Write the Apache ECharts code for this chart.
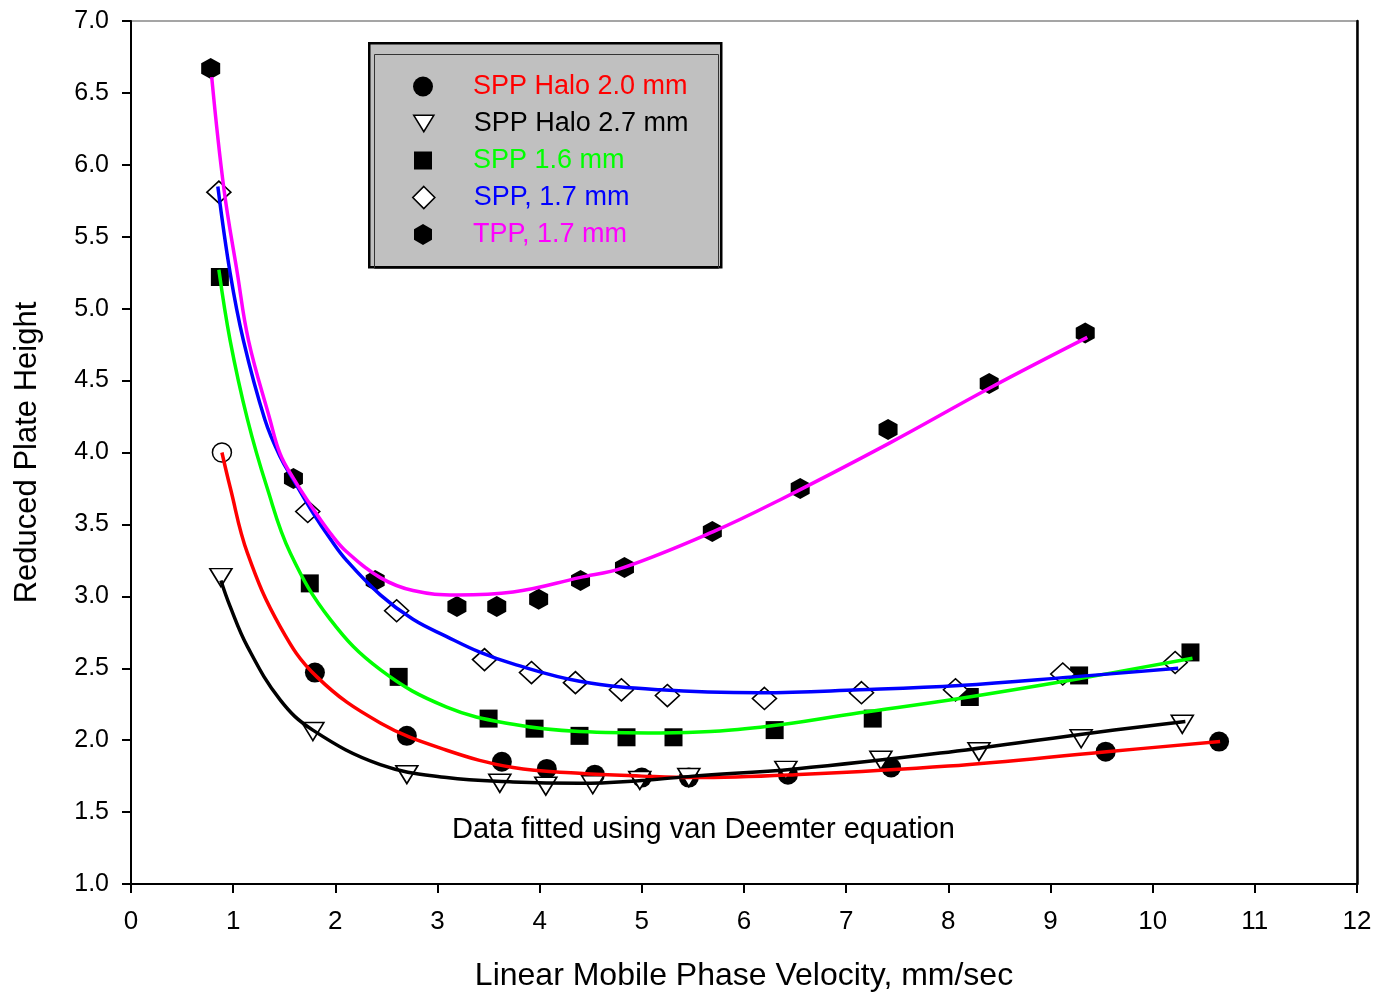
<!DOCTYPE html>
<html>
<head>
<meta charset="utf-8">
<script src="https://cdn.jsdelivr.net/npm/echarts@6/dist/echarts.min.js"></script>
<style>html,body{margin:0;padding:0;background:#fff;overflow:hidden}#c{width:1376px;height:992px}</style>
</head>
<body>
<div id="c"></div>
<script>
// ---- measured data points ----
const halo20X = [0.89, 1.80, 2.70, 3.63, 4.07, 4.54, 5.00, 5.46, 6.43, 7.44, 9.54, 10.65];
const halo20Y = [4.00, 2.47, 2.03, 1.85, 1.80, 1.76, 1.74, 1.74, 1.76, 1.81, 1.92, 1.99];

const halo27X = [0.88, 1.78, 2.70, 3.61, 4.06, 4.52, 4.98, 5.46, 6.41, 7.34, 8.30, 9.30, 10.29];
const halo27Y = [3.13, 2.06, 1.76, 1.70, 1.68, 1.69, 1.72, 1.74, 1.79, 1.86, 1.92, 2.01, 2.11];

const spp16X = [0.87, 1.75, 2.62, 3.50, 3.95, 4.39, 4.85, 5.31, 6.30, 7.26, 8.21, 9.28, 10.37];
const spp16Y = [5.22, 3.09, 2.44, 2.15, 2.08, 2.03, 2.02, 2.02, 2.07, 2.15, 2.30, 2.45, 2.61];

const spp17X = [0.86, 1.73, 2.60, 3.46, 3.92, 4.35, 4.80, 5.25, 6.20, 7.15, 8.07, 9.12, 10.22];
const spp17Y = [5.81, 3.59, 2.90, 2.56, 2.47, 2.40, 2.35, 2.31, 2.29, 2.33, 2.35, 2.46, 2.54];

const tppX = [0.78, 1.59, 2.39, 3.19, 3.58, 3.99, 4.40, 4.83, 5.69, 6.55, 7.41, 8.40, 9.34];
const tppY = [6.67, 3.82, 3.11, 2.93, 2.93, 2.98, 3.11, 3.20, 3.45, 3.75, 4.16, 4.48, 4.83];

// ---- fitted curves ----
const fit20X = [0.89, 0.97, 1.14, 1.46, 1.82, 2.44, 3.09, 3.74, 4.39, 5.00, 5.50, 6.50, 8.00, 9.55, 10.66];
const fit20Y = [4.00, 3.76, 3.30, 2.79, 2.44, 2.12, 1.93, 1.81, 1.77, 1.75, 1.74, 1.76, 1.82, 1.92, 1.99];

const fit27X = [0.88, 0.97, 1.14, 1.46, 1.78, 2.44, 3.09, 3.74, 4.39, 5.00, 5.50, 6.50, 7.92, 9.29, 10.32];
const fit27Y = [3.11, 2.93, 2.65, 2.28, 2.07, 1.83, 1.74, 1.71, 1.70, 1.72, 1.75, 1.80, 1.91, 2.04, 2.13];

const fit16X = [0.86, 0.97, 1.14, 1.33, 1.56, 1.95, 2.44, 3.09, 3.74, 4.39, 5.18, 6.16, 7.13, 8.11, 9.22, 10.39];
const fit16Y = [5.27, 4.78, 4.23, 3.76, 3.30, 2.84, 2.49, 2.23, 2.11, 2.06, 2.05, 2.09, 2.19, 2.29, 2.42, 2.57];

const fit17X = [0.85, 0.97, 1.10, 1.31, 1.46, 1.59, 1.79, 1.95, 2.11, 2.44, 2.76, 3.09, 3.42, 3.74, 4.39, 5.18, 6.16, 7.13, 8.11, 9.22, 10.25];
const fit17Y = [5.85, 5.25, 4.78, 4.23, 3.97, 3.81, 3.57, 3.40, 3.25, 3.01, 2.84, 2.72, 2.61, 2.53, 2.41, 2.35, 2.33, 2.35, 2.38, 2.44, 2.50];

const fitTX = [0.79, 0.91, 1.04, 1.15, 1.36, 1.46, 1.59, 1.79, 1.95, 2.11, 2.44, 2.76, 3.19, 3.74, 4.39, 4.82, 5.70, 6.35, 7.41, 8.41, 9.36];
const fitTY = [6.61, 5.83, 5.25, 4.78, 4.23, 3.99, 3.82, 3.60, 3.44, 3.31, 3.13, 3.04, 3.01, 3.03, 3.13, 3.20, 3.45, 3.67, 4.06, 4.45, 4.80];

const xTicks = [0, 1, 2, 3, 4, 5, 6, 7, 8, 9, 10, 11, 12];
const yTicks = [1.0, 1.5, 2.0, 2.5, 3.0, 3.5, 4.0, 4.5, 5.0, 5.5, 6.0, 6.5, 7.0];

const names = ['SPP Halo 2.0 mm', 'SPP Halo 2.7 mm', 'SPP 1.6 mm', 'SPP, 1.7 mm', 'TPP, 1.7 mm'];
const lineColors = ['#ff0000', '#000000', '#00ff00', '#0000ff', '#ff00ff'];

const FONT = '"Liberation Sans", Arial, sans-serif';
const zip = (xs, ys) => xs.map((x, i) => [x, ys[i]]);
const hexPath = 'path://M0,-1 L0.866,-0.5 L0.866,0.5 L0,1 L-0.866,0.5 L-0.866,-0.5 Z';
const downTri = 'path://M0,0 L2,0 L1,1.64 Z';

const pointSets = [
  {x: halo20X, y: halo20Y, symbol: 'circle', size: 20, fill: '#000', rotate: 0, icon: 'circle'},
  {x: halo27X, y: halo27Y, symbol: 'triangle', size: [22, 18], fill: '#fff', rotate: 180, icon: downTri},
  {x: spp16X, y: spp16Y, symbol: 'rect', size: 18, fill: '#000', rotate: 0, icon: 'rect'},
  {x: spp17X, y: spp17Y, symbol: 'diamond', size: [24, 22], fill: '#fff', rotate: 0, icon: 'diamond'},
  {x: tppX, y: tppY, symbol: hexPath, size: [19, 21], fill: '#000', rotate: 0, icon: hexPath}
];
const fitSets = [[fit20X, fit20Y], [fit27X, fit27Y], [fit16X, fit16Y], [fit17X, fit17Y], [fitTX, fitTY]];
const legendIconSize = [[20, 20], [20, 17], [18, 18], [22, 22], [18, 21]];

const series = [];
pointSets.forEach((p, k) => {
  let data = zip(p.x, p.y);
  if (k === 0) {
    data = data.map((d, i) => i === 0 ? {value: d, symbolSize: 19, itemStyle: {color: '#fff', borderColor: '#000', borderWidth: 1.5}} : d);
  }
  series.push({
    name: names[k], type: 'scatter', z: 2,
    symbol: p.symbol, symbolSize: p.size, symbolRotate: p.rotate,
    itemStyle: {color: p.fill, borderColor: '#000', borderWidth: p.fill === '#fff' ? 1.6 : 0, opacity: 1},
    data: data, silent: true
  });
});
fitSets.forEach((f, k) => {
  series.push({
    name: names[k] + ' fit', type: 'line', z: 3,
    smooth: 0.4, showSymbol: false, symbol: 'none',
    lineStyle: {color: lineColors[k], width: 3.5},
    data: zip(f[0], f[1]), silent: true
  });
});

// one legend per row so each icon keeps its own size
const legends = names.map((n, k) => {
  const p = pointSets[k];
  const sz = legendIconSize[k];
  const rowCenter = 86 + 37 * k;
  return {
    show: true, orient: 'vertical', left: 423 - sz[0] / 2, top: rowCenter - 13, padding: 0,
    itemWidth: sz[0], itemHeight: sz[1], selectedMode: false,
    textStyle: {fontFamily: FONT, fontSize: 27, color: lineColors[k], padding: [0, 0, 0, 50 - sz[0] / 2 - 5]},
    data: [{name: n, icon: p.icon, itemStyle: {color: p.fill, borderColor: '#000', borderWidth: p.fill === '#fff' ? 1.6 : 0}}]
  };
});

const chart = echarts.init(document.getElementById('c'), null, {renderer: 'canvas'});
chart.setOption({
  animation: false,
  backgroundColor: '#fff',
  grid: {left: 131, right: 19, top: 21, bottom: 108, containLabel: false, outerBoundsMode: 'none',
         show: true, borderColor: '#888', borderWidth: 1.5},
  xAxis: {
    type: 'value', min: xTicks[0], max: xTicks[xTicks.length - 1], interval: 1,
    name: 'Linear Mobile Phase Velocity, mm/sec', nameLocation: 'middle', nameGap: 76,
    nameTextStyle: {fontFamily: FONT, fontSize: 32, color: '#000'},
    axisLine: {show: true, onZero: false, lineStyle: {color: '#000', width: 2}},
    axisTick: {show: true, inside: false, length: 9, lineStyle: {color: '#000', width: 2}},
    axisLabel: {fontFamily: FONT, fontSize: 26, color: '#000', margin: 25},
    splitLine: {show: false}
  },
  yAxis: [{
    type: 'value', min: yTicks[0], max: yTicks[yTicks.length - 1], interval: 0.5,
    name: 'Reduced Plate Height', nameLocation: 'middle', nameGap: 88,
    nameTextStyle: {fontFamily: FONT, fontSize: 31, color: '#000'},
    axisLine: {show: true, onZero: false, lineStyle: {color: '#000', width: 2}},
    axisTick: {show: true, inside: false, length: 9, lineStyle: {color: '#000', width: 2}},
    axisLabel: {fontFamily: FONT, fontSize: 25, color: '#000', margin: 22, formatter: v => v.toFixed(1)},
    splitLine: {show: false}
  }, {
    type: 'value', position: 'right', min: yTicks[0], max: yTicks[yTicks.length - 1], interval: 0.5,
    axisLine: {show: true, onZero: false, lineStyle: {color: '#000', width: 2.5}},
    axisTick: {show: false}, axisLabel: {show: false}, splitLine: {show: false}
  }],
  graphic: [
    {type: 'rect', left: 368, top: 42, z: 0, shape: {width: 352, height: 224},
     style: {fill: '#c0c0c0', stroke: '#000', lineWidth: 2.5}},
    {type: 'rect', left: 372, top: 52, z: 1, shape: {width: 344, height: 214},
     style: {fill: 'none', stroke: '#333', lineWidth: 1}},
    {type: 'text', left: 452, top: 815, z: 5,
     style: {text: 'Data fitted using van Deemter equation', font: '29px "Liberation Sans", Arial, sans-serif', fill: '#000'}}
  ],
  legend: legends,
  series: series
});
</script>
</body>
</html>
